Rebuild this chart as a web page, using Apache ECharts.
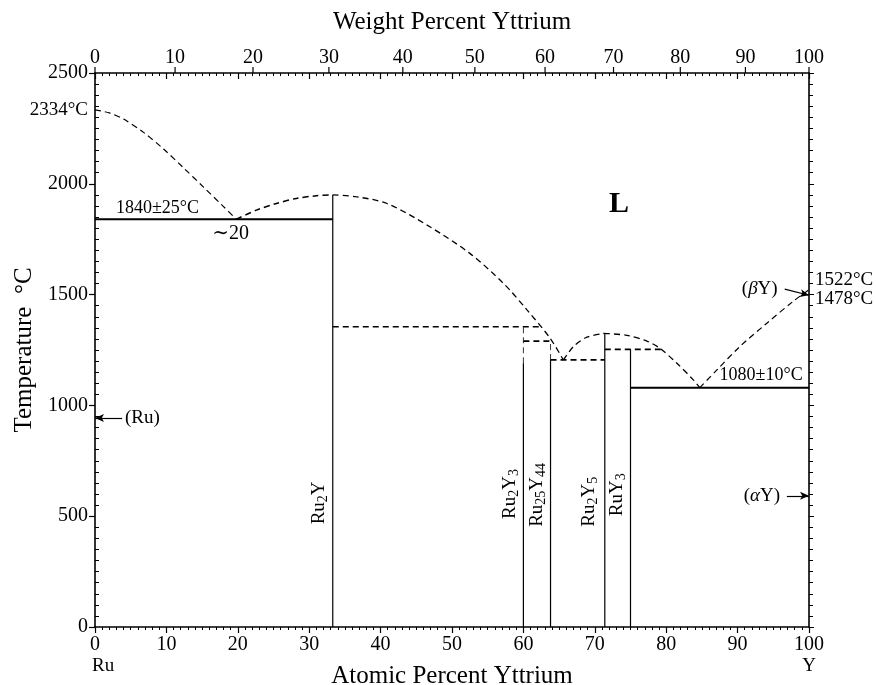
<!DOCTYPE html>
<html>
<head>
<meta charset="utf-8">
<script src="https://cdn.jsdelivr.net/npm/echarts@6/dist/echarts.min.js"></script>
<style>
  html, body { margin: 0; padding: 0; background: #fff; }
  #main { width: 876px; height: 685px; }
</style>
</head>
<body>
<div id="main"></div>
<script>
// atomic masses, used only to place the weight-percent ticks on the top axis
const MASS_RU = 101.07;
const MASS_Y = 88.906;

const weightTicks = [0, 10, 20, 30, 40, 50, 60, 70, 80, 90, 100];

// liquidus branches (at.% Y, degC)
const liquidusRu = [[0, 2334], [2, 2320], [4, 2292], [6.8, 2232], [9.6, 2157], [12.4, 2072], [15.2, 1985], [18, 1897], [19.8, 1840]];
const liquidusRu2YLeft = [[19.8, 1840], [22.6, 1881], [25.4, 1911], [28.2, 1934], [31.0, 1946], [33.3, 1950]];
const liquidusRu2YRight = [[33.3, 1950], [36.5, 1942], [40.9, 1911], [46.9, 1806], [52.5, 1686], [57.2, 1551], [60.5, 1431], [63.7, 1305], [65.6, 1205]];
const liquidusRu2Y5Left = [[65.6, 1205], [67.0, 1265], [68.9, 1308], [71.3, 1325]];
const liquidusRu2Y5Right = [[71.3, 1325], [74.5, 1316], [77.3, 1290], [79.1, 1258], [81.5, 1190], [83.8, 1115], [84.7, 1080]];
const liquidusY = [[84.7, 1080], [87.1, 1160], [90.3, 1265], [94.1, 1371], [97.8, 1470], [100, 1522]];

// invariant reactions
const eutectic1840 = [[0, 1840], [33.3, 1840]];
const peritectic1355 = [[33.3, 1355], [62.6, 1355]];
const peritectic1290 = [[60, 1290], [64.1, 1290]];
const eutectic1205 = [[63.8, 1205], [71.4, 1205]];
const peritectic1253 = [[71.4, 1253], [79.3, 1253]];
const eutectic1080 = [[75, 1080], [100, 1080]];

// compounds: composition, solid line top, dashed line top
const compoundNames = ['Ru2Y', 'Ru2Y3', 'Ru25Y44', 'Ru2Y5', 'RuY3'];
const compoundX = [33.3, 60, 63.8, 71.4, 75];
const compoundSolidTop = [1950, 1190, 1205, 1325, 1253];
const compoundDashedTop = [null, 1355, 1290, null, null];

const serif = '"Liberation Serif", "DejaVu Serif", serif';
const dash = [6, 4];

function atomicFromWeight(w) {
    return (w / MASS_Y) / (w / MASS_Y + (100 - w) / MASS_RU) * 100;
}

function lineSeries(data, dashed, width, smooth) {
    return {
        type: 'line',
        data: data,
        showSymbol: false,
        symbol: 'none',
        smooth: smooth ? 0.3 : false,
        silent: true,
        lineStyle: { color: '#000', width: width, type: dashed ? dash : 'solid' }
    };
}

let series = [
    lineSeries(liquidusRu, true, 1.2, true),
    lineSeries(liquidusRu2YLeft, true, 1.5, true),
    lineSeries(liquidusRu2YRight, true, 1.3, true),
    lineSeries(liquidusRu2Y5Left, true, 1.3, true),
    lineSeries(liquidusRu2Y5Right, true, 1.3, true),
    lineSeries(liquidusY, true, 1.2, true),
    lineSeries(eutectic1840, false, 2, false),
    lineSeries(peritectic1355, true, 1.7, false),
    lineSeries(peritectic1290, true, 1.7, false),
    lineSeries(eutectic1205, true, 1.7, false),
    lineSeries(peritectic1253, true, 1.7, false),
    lineSeries(eutectic1080, false, 2, false)
];

compoundX.forEach(function (x, i) {
    series.push(lineSeries([[x, 0], [x, compoundSolidTop[i]]], false, 1.2, false));
    if (compoundDashedTop[i] != null) {
        series.push(lineSeries([[x, compoundSolidTop[i]], [x, compoundDashedTop[i]]], true, 0.8, false));
    }
});

// arrows for the pure element allotropes
function arrow(from, to) {
    return {
        type: 'line',
        data: [],
        silent: true,
        markLine: {
            silent: true,
            symbol: ['none', 'arrow'],
            symbolSize: [6, 9],
            label: { show: false },
            lineStyle: { color: '#000', width: 1.2, type: 'solid' },
            data: [[{ coord: from }, { coord: to }]]
        }
    };
}
series.push(arrow([3.8, 943], [0, 943]));
series.push(arrow([96.9, 592], [100, 592]));
series.push(arrow([96.6, 1525], [100, 1497]));

// weight percent ticks on the top edge
series.push({
    type: 'custom',
    silent: true,
    data: weightTicks.map(function (w) { return [w, 2500]; }),
    renderItem: function (params, api) {
        const w = api.value(0);
        const p = api.coord([atomicFromWeight(w), 2500]);
        return {
            type: 'group',
            children: [
                { type: 'line', shape: { x1: p[0], y1: p[1], x2: p[0], y2: p[1] - 6 }, style: { stroke: '#000', lineWidth: 1.2 } },
                { type: 'text', style: { text: String(w), x: p[0], y: p[1] - 5, align: 'center', verticalAlign: 'bottom', font: '20px ' + serif, fill: '#000' } }
            ]
        };
    }
});

const axisLine = { show: true, onZero: false, lineStyle: { color: '#000', width: 1.6 } };

const option = {
    animation: false,
    backgroundColor: '#fff',
    grid: { left: 95, right: 67, top: 73, bottom: 58, containLabel: false, outerBoundsMode: 'none' },
    xAxis: [
        {
            type: 'value', position: 'bottom', min: 0, max: 100, interval: 10,
            axisLine: axisLine,
            axisTick: { show: true, inside: false, length: 6, lineStyle: { color: '#000', width: 1.2 } },
            minorTick: { show: true, splitNumber: 10, length: 3, lineStyle: { color: '#000', width: 1 } },
            axisLabel: { color: '#000', fontSize: 20, fontFamily: serif, margin: 8 },
            splitLine: { show: false },
            name: 'Atomic Percent Yttrium', nameLocation: 'middle', nameGap: 37,
            nameTextStyle: { color: '#000', fontSize: 25, fontFamily: serif }
        },
        {
            type: 'value', position: 'top', min: 0, max: 100, interval: 10,
            axisLine: axisLine,
            axisTick: { show: true, inside: true, length: 6, lineStyle: { color: '#000', width: 1.2 } },
            minorTick: { show: true, splitNumber: 10, length: 3, lineStyle: { color: '#000', width: 1 } },
            axisLabel: { show: false },
            splitLine: { show: false },
            name: 'Weight Percent Yttrium', nameLocation: 'middle', nameGap: 38,
            nameTextStyle: { color: '#000', fontSize: 25, fontFamily: serif }
        }
    ],
    yAxis: [
        {
            type: 'value', position: 'left', min: 0, max: 2500, interval: 500,
            axisLine: axisLine,
            axisTick: { show: true, inside: false, length: 6, lineStyle: { color: '#000', width: 1.2 } },
            axisLabel: { color: '#000', fontSize: 20, fontFamily: serif, margin: 7, formatter: function (v) { return String(v); } },
            splitLine: { show: false },
            name: 'Temperature  \u00b0C', nameLocation: 'middle', nameGap: 58, nameRotate: 90,
            nameTextStyle: { color: '#000', fontSize: 25, fontFamily: serif }
        },
        {
            type: 'value', position: 'left', min: 0, max: 2500, interval: 500,
            axisLine: { show: false },
            axisTick: { show: false, inside: true },
            minorTick: { show: true, splitNumber: 10, length: 4, lineStyle: { color: '#000', width: 1 } },
            axisLabel: { show: false },
            splitLine: { show: false }
        },
        {
            type: 'value', position: 'right', min: 0, max: 2500, interval: 500,
            axisLine: axisLine,
            axisTick: { show: true, inside: false, length: 5, lineStyle: { color: '#000', width: 1 } },
            minorTick: { show: true, splitNumber: 10, length: 4, lineStyle: { color: '#000', width: 1 } },
            axisLabel: { show: false },
            splitLine: { show: false }
        }
    ],
    series: series
};

const chart = echarts.init(document.getElementById('main'));
chart.setOption(option);

// text annotations placed through the chart's own scales
function px(pt) {
    return chart.convertToPixel({ gridIndex: 0 }, pt);
}
const baseRich = {
    n: { fontSize: 19, fontFamily: serif, fill: '#000' },
    s: { fontSize: 14, fontFamily: serif, fill: '#000', padding: [9, 0, 0, 0] },
    i: { fontSize: 19, fontFamily: serif, fontStyle: 'italic', fill: '#000' }
};
function richFormula(name) {
    return name.replace(/([A-Z][a-z]?)(\d*)/g, function (m, el, num) {
        return '{n|' + el + '}' + (num ? '{s|' + num + '}' : '');
    });
}
function text(pt, str, opts) {
    const p = px(pt);
    const o = opts || {};
    return {
        type: 'text',
        x: p[0] + (o.dx || 0),
        y: p[1] + (o.dy || 0),
        rotation: o.rotation || 0,
        silent: true,
        style: {
            text: str,
            rich: baseRich,
            font: (o.bold ? 'bold ' : '') + (o.size || 18) + 'px ' + serif,
            fill: '#000',
            align: o.align || 'center',
            verticalAlign: o.valign || 'middle'
        }
    };
}

const compoundLabelAt = [[31.4, 560], [58.1, 600], [61.9, 596], [69.2, 565], [73.1, 597]];
let graphics = compoundNames.map(function (name, i) {
    return text(compoundLabelAt[i], richFormula(name), { rotation: Math.PI / 2 });
});
graphics = graphics.concat([
    text([8.75, 1890], '1840\u00b125\u00b0C', { size: 18 }),
    text([19.0, 1775], '\u223c20', { size: 20 }),
    text([73.4, 1908], 'L', { size: 30, bold: true }),
    text([93.3, 1137], '1080\u00b110\u00b0C', { size: 18 }),
    text([0, 2334], '2334\u00b0C', { size: 19, align: 'right', dx: -7 }),
    text([100, 1566], '1522\u00b0C', { size: 19, align: 'left', dx: 6 }),
    text([100, 1482], '1478\u00b0C', { size: 19, align: 'left', dx: 6 }),
    text([93.1, 1525], '(' + '{i|\u03b2}' + 'Y)', { size: 19 }),
    text([93.4, 592], '(' + '{i|\u03b1}' + 'Y)', { size: 19 }),
    text([4.2, 941], '(Ru)', { size: 19, align: 'left' }),
    text([0, 0], 'Ru', { size: 19, align: 'left', valign: 'top', dx: -3, dy: 30 }),
    text([100, 0], 'Y', { size: 19, valign: 'top', dy: 30 })
]);
chart.setOption({ graphic: graphics });
</script>
</body>
</html>
